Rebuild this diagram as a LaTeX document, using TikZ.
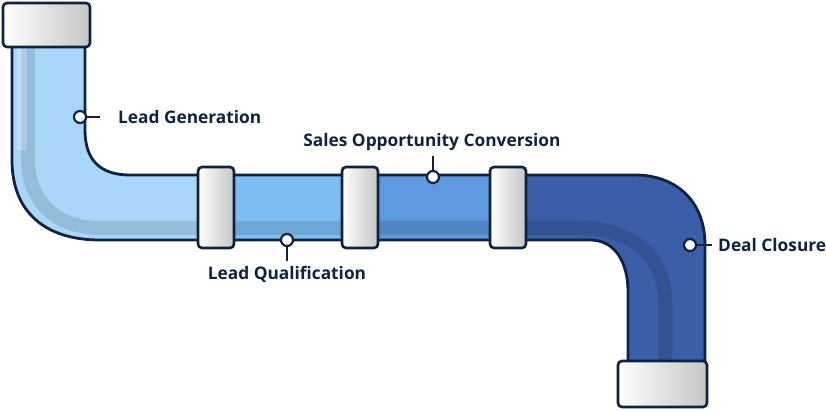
\documentclass[tikz,border=0pt]{standalone}
\usepackage{fontspec}
\setmainfont{Open Sans}
\usetikzlibrary{positioning}
\definecolor{navy}{HTML}{0F2240}
\definecolor{segA}{HTML}{A9D7FA}
\definecolor{segB}{HTML}{7EBDF4}
\definecolor{segC}{HTML}{5E98DF}
\definecolor{segD}{HTML}{3A5EA8}
\tikzset{
  capbox/.style={draw=navy,line width=2.6pt,rounded corners=4pt,left color=white,right color=gray!45},
  dot/.style={circle,draw=navy,line width=2.2pt,fill=white,inner sep=0pt,minimum size=12pt},
  lbl/.style={text=navy,font=\fontsize{17.3}{20}\selectfont\bfseries,inner sep=1pt},
  tick/.style={draw=navy,line width=2.2pt}
}
\newcommand{\pipepath}{(12,40) -- (12,160) .. controls (12,212) and (45,240) .. (100,240) -- (590,240) .. controls (615,240) and (628,262) .. (628,292) -- (628,368) -- (705,368) -- (705,245) .. controls (705,200) and (675,175) .. (635,175) -- (130,175) .. controls (100,175) and (85,160) .. (85,130) -- (85,40) -- cycle}
\begin{document}
\begin{tikzpicture}[x=1pt,y=-1pt]
  \useasboundingbox (0,0) rectangle (826,411);
  % pipe body
  \fill[segA] \pipepath;
  \begin{scope}
    \clip \pipepath;
    \fill[segB] (216,100) rectangle (360,260);
    \fill[segC] (360,100) rectangle (508,260);
    \fill[segD] (508,100) rectangle (720,380);
    \draw[black,opacity=0.12,line width=14pt] (28,40) -- (28,160) .. controls (28,200) and (55,228) .. (100,228) -- (580,228) .. controls (630,228) and (665,255) .. (665,300) -- (665,380);
    \draw[white,opacity=0.25,line width=10pt] (22,40) -- (22,150);
  \end{scope}
  \draw[navy,line width=2.8pt] \pipepath;
  % caps and collars
  \draw[capbox] (3,3) rectangle (90,47);
  \draw[capbox] (618,361) rectangle (707,407);
  \foreach \cx in {216,360,508}
    \draw[capbox] (\cx-18,167) rectangle (\cx+18,248);
  % labels
  \node[dot] (gen) at (80,117) {};
  \node[lbl,anchor=west] (genT) at (117,117) {Lead Generation};
  \draw[tick] (gen) -- (100,117);
  \node[dot] (qual) at (287,240) {};
  \node[lbl] (qualT) at (287,274) {Lead Qualification};
  \draw[tick] (qual) -- (287,261);
  \node[dot] (conv) at (433,177) {};
  \node[lbl] (convT) at (432,142) {Sales Opportunity Conversion};
  \draw[tick] (conv) -- (433,156);
  \node[dot] (deal) at (690,245) {};
  \node[lbl,anchor=west] (dealT) at (717,245) {Deal Closure};
  \draw[tick] (deal) -- (712,245);
\end{tikzpicture}
\end{document}
